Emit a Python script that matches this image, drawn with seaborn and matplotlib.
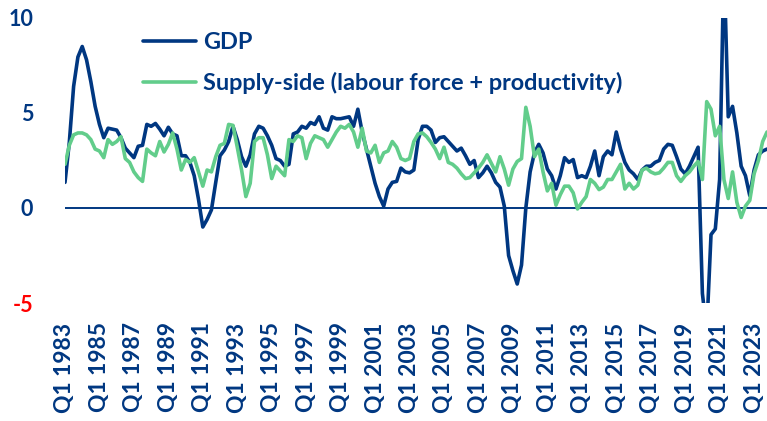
import numpy as np
import pandas as pd
import matplotlib
matplotlib.use('Agg')
import matplotlib.pyplot as plt
import seaborn as sns

# Dados: crescimento anual (%), trimestral, Q1 1983 - Q4 2023
gdp = [1.35, 3.45, 6.4, 7.95, 8.5, 7.8, 6.65, 5.35, 4.4, 3.7,
       4.2, 4.15, 4.1, 3.7, 3.15, 2.9, 2.65, 3.25, 3.3, 4.4,
       4.3, 4.45, 4.15, 3.8, 4.25, 3.9, 3.8, 2.75, 2.75, 2.4,
       1.7, 0.45, -1.0, -0.6, -0.1, 1.35, 2.75, 3.05, 3.5, 4.3,
       3.6, 2.7, 2.2, 2.8, 3.9, 4.3, 4.2, 3.8, 3.3, 2.6,
       2.5, 2.2, 2.3, 3.9, 4.0, 4.3, 4.2, 4.5, 4.4, 4.8,
       4.2, 4.1, 4.8, 4.7, 4.7, 4.75, 4.8, 4.3, 5.2, 4.0,
       3.1, 2.2, 1.3, 0.6, 0.1, 1.0, 1.35, 1.4, 2.1, 1.9,
       1.85, 2.0, 3.6, 4.3, 4.3, 4.1, 3.45, 3.7, 3.75, 3.5,
       3.25, 3.0, 3.15, 2.75, 2.3, 2.5, 1.6, 1.85, 2.2, 1.85,
       1.35, 1.1, 0.1, -2.5, -3.3, -4.0, -3.0, 0.0, 1.9, 2.9,
       3.35, 2.9, 2.05, 1.7, 1.0, 1.7, 2.65, 2.4, 2.55, 1.6,
       1.7, 1.6, 2.2, 3.0, 1.7, 2.7, 3.0, 2.8, 4.0, 3.1,
       2.4, 2.0, 1.8, 1.5, 2.0, 2.2, 2.2, 2.4, 2.5, 3.1,
       3.35, 3.3, 2.7, 2.05, 1.8, 2.2, 2.7, 3.2, -4.5, -6.5,
       -1.4, -1.1, 1.5, 13.0, 4.8, 5.35, 3.95, 2.2, 1.7, 0.65,
       2.0, 2.8, 3.0, 3.1]

supply = [2.3, 3.3, 3.85, 3.95, 3.95, 3.85, 3.6, 3.1, 3.0, 2.65,
          3.6, 3.35, 3.5, 3.75, 2.6, 2.4, 1.9, 1.6, 1.4, 3.1,
          2.9, 2.75, 3.5, 2.95, 3.35, 3.95, 3.1, 2.0, 2.55, 2.4,
          2.65, 1.9, 1.15, 2.0, 1.9, 2.7, 3.3, 3.4, 4.4, 4.35,
          3.2, 2.0, 0.6, 1.3, 3.5, 3.7, 3.7, 2.8, 1.55, 2.2,
          1.95, 1.7, 3.6, 3.5, 3.8, 3.7, 2.6, 3.4, 3.8, 3.7,
          3.6, 3.2, 3.6, 4.0, 4.3, 4.2, 4.4, 4.0, 3.2, 4.2,
          3.0, 2.9, 3.3, 2.4, 2.9, 3.0, 3.5, 3.2, 2.6, 2.5,
          2.6, 3.5, 3.9, 3.95, 3.75, 3.45, 3.1, 2.6, 3.2, 2.4,
          2.3, 2.1, 1.8, 1.55, 1.6, 1.85, 2.1, 2.4, 2.8, 2.35,
          1.9, 2.7, 2.05, 1.2, 2.05, 2.45, 2.6, 5.3, 4.3, 2.7,
          3.1, 1.9, 0.9, 1.3, 0.15, 0.7, 1.15, 1.15, 0.8, -0.05,
          0.3, 0.6, 1.5, 1.3, 0.97, 1.1, 1.5, 1.5, 1.9, 2.3,
          1.0, 1.3, 1.0, 1.2, 2.0, 2.1, 1.9, 1.8, 1.85, 2.1,
          2.4, 2.4, 1.7, 1.4, 1.7, 1.9, 2.2, 2.45, 1.5, 5.6,
          5.2, 3.8, 4.3, 1.5, 0.5, 1.9, 0.3, -0.5, 0.1, 0.4,
          1.8, 2.5, 3.5, 4.0]

quarters = [f'Q{q} {y}' for y in range(1983, 2024) for q in range(1, 5)]
yticks = [-5, 0, 5, 10]

df = pd.DataFrame({'idx': range(len(gdp)), 'GDP': gdp, 'Supply': supply})

NAVY = '#003781'
GREEN = '#62CD8B'

sns.set_theme(style='white')
plt.rcParams['font.family'] = ['Lato', 'DejaVu Sans']

fig = plt.figure(figsize=(7.67, 4.21), dpi=100)
ax = fig.add_axes([65 / 767, 1 - 303 / 421, 702 / 767, 285 / 421])

ax.axhline(0, color=NAVY, lw=1.4, zorder=1)
sns.lineplot(data=df, x='idx', y='GDP', color=NAVY, lw=2.6, ax=ax,
             label='GDP', zorder=2)
sns.lineplot(data=df, x='idx', y='Supply', color=GREEN, lw=2.6, ax=ax,
             label='Supply-side (labour force + productivity)', zorder=3)

ax.set_xlim(0, len(gdp) - 1)
ax.set_ylim(-5, 10)
ax.set_xlabel('')
ax.set_ylabel('')

ax.set_xticks(range(0, len(gdp), 8))
ax.set_xticklabels(quarters[::8], rotation=90, fontsize=16.5, fontweight='bold',
                   color=NAVY)
ax.set_yticks(yticks)
ax.set_yticklabels([str(t) for t in yticks], fontsize=15.5, fontweight='bold')
for lab, t in zip(ax.get_yticklabels(), yticks):
    lab.set_color('#FF0000' if t < 0 else NAVY)
ax.tick_params(axis='x', length=0, pad=14)
ax.tick_params(axis='y', length=0, pad=23)

for s in ax.spines.values():
    s.set_visible(False)

leg = ax.legend(loc='upper left', bbox_to_anchor=(143 / 767, 1 - 32 / 421),
                bbox_transform=fig.transFigure, frameon=False,
                prop={'size': 16.9, 'weight': 'bold'}, handlelength=2.25,
                handletextpad=0.3, labelspacing=0.8, borderpad=0,
                borderaxespad=0)
for txt in leg.get_texts():
    txt.set_color(NAVY)

plt.savefig('out.png', dpi=100)
plt.close()
